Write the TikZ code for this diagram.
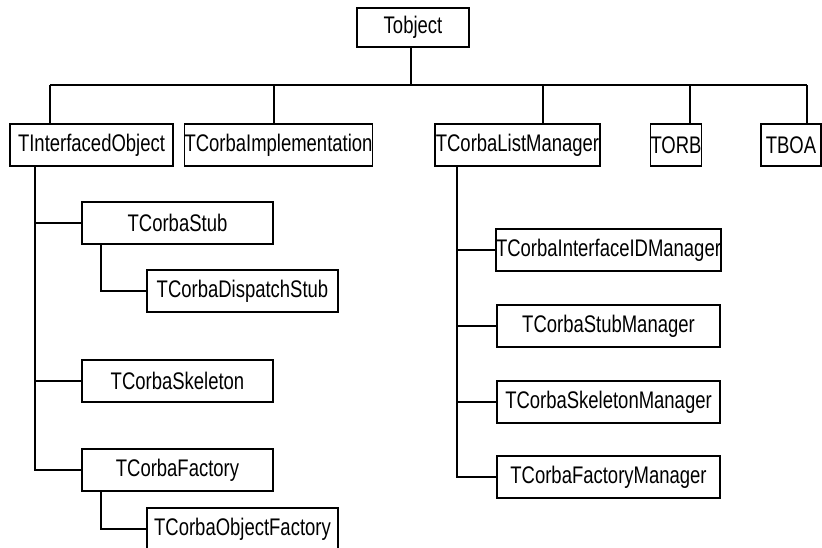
\documentclass[tikz,border=0pt]{standalone}
\usepackage{fontspec}
\setmainfont{Liberation Sans}[FakeStretch=0.77]
\begin{document}
\begin{tikzpicture}[x=1pt,y=-1pt,
  cls/.style={draw=black,line width=1.5pt,inner sep=0pt,minimum height=42pt,
    font=\fontsize{24}{28}\selectfont,text=black},
  link/.style={draw=black,line width=1.5pt}]
\clip (0,0) rectangle (822,547);
\fill[white] (0,0) rectangle (822,547);
% top
\node[cls,minimum width=112pt,minimum height=39pt] (tobj) at (413,27.5) {Tobject};
\node[cls,minimum width=163pt] (tio) at (91.5,145) {TInterfacedObject};
\node[cls,minimum width=131pt] (timpl) at (278.5,145) {TCorbaImplementation};
\node[cls,minimum width=165pt] (tlist) at (517.5,145) {TCorbaListManager};
\node[cls,minimum width=48pt] (torb) at (676,145) {TORB};
\node[cls,minimum width=60pt] (tboa) at (791,145) {TBOA};
% left branch
\node[cls,minimum width=191pt] (tstub) at (177.5,223) {TCorbaStub};
\node[cls,minimum width=191pt] (tdisp) at (242.5,291) {TCorbaDispatchStub};
\node[cls,minimum width=191pt] (tskel) at (177.5,381) {TCorbaSkeleton};
\node[cls,minimum width=191pt] (tfact) at (177.5,470) {TCorbaFactory};
\node[cls,minimum width=191pt] (tobjf) at (242.5,529) {TCorbaObjectFactory};
% right branch
\node[cls,minimum width=223pt] (tiid) at (608.5,250) {TCorbaInterfaceIDManager};
\node[cls,minimum width=223pt] (tsm) at (608.5,326) {TCorbaStubManager};
\node[cls,minimum width=223pt] (tskm) at (608.5,402) {TCorbaSkeletonManager};
\node[cls,minimum width=223pt] (tfm) at (608.5,477) {TCorbaFactoryManager};
% bus coordinates
\coordinate (b0) at (411,85);
\coordinate (b1) at (50,85);
\coordinate (b2) at (274,85);
\coordinate (b3) at (543,85);
\coordinate (b4) at (690,85);
\coordinate (b5) at (807,85);
\coordinate (cL) at (35,0);
\coordinate (cS) at (101,0);
\coordinate (cR) at (457,0);
% connectors
\draw[link] (b0 |- tobj.south) -- (b0);
\draw[link] (b1) -- (b5);
\draw[link] (b1) -- (b1 |- tio.north);
\draw[link] (b2) -- (b2 |- timpl.north);
\draw[link] (b3) -- (b3 |- tlist.north);
\draw[link] (b4) -- (b4 |- torb.north);
\draw[link] (b5) -- (b5 |- tboa.north);
\draw[link] (tio.south -| cL) -- (tfact.west -| cL) -- (tfact.west);
\draw[link] (tstub.west -| cL) -- (tstub.west);
\draw[link] (tskel.west -| cL) -- (tskel.west);
\draw[link] (tstub.south -| cS) -- (tdisp.west -| cS) -- (tdisp.west);
\draw[link] (tfact.south -| cS) -- (tobjf.west -| cS) -- (tobjf.west);
\draw[link] (tlist.south -| cR) -- (tfm.west -| cR) -- (tfm.west);
\draw[link] (tiid.west -| cR) -- (tiid.west);
\draw[link] (tsm.west -| cR) -- (tsm.west);
\draw[link] (tskm.west -| cR) -- (tskm.west);
\end{tikzpicture}
\end{document}
